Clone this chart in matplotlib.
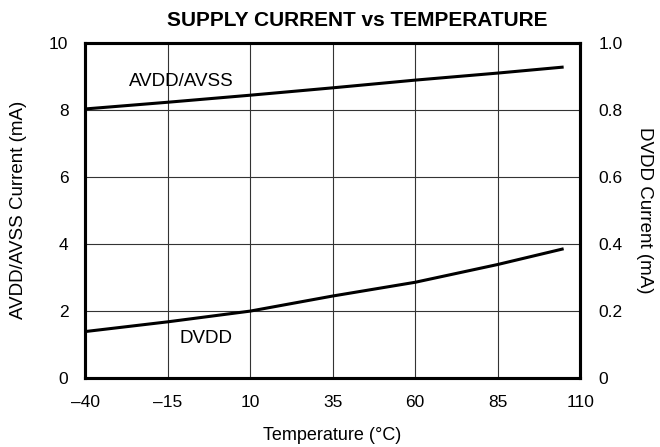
import matplotlib.pyplot as plt

plt.rcParams['font.family'] = ['Liberation Sans', 'DejaVu Sans']

temp = [-40, -15, 10, 35, 60, 85, 105]
avdd = [8.03, 8.23, 8.44, 8.66, 8.89, 9.10, 9.28]
dvdd = [0.139, 0.168, 0.200, 0.245, 0.286, 0.339, 0.386]

x_ticks = [-40, -15, 10, 35, 60, 85, 110]
x_labels = ['\u201340', '\u201315', '10', '35', '60', '85', '110']
left_ticks = [0, 2, 4, 6, 8, 10]
right_ticks = [0, 0.2, 0.4, 0.6, 0.8, 1.0]
right_labels = ['0', '0.2', '0.4', '0.6', '0.8', '1.0']

fig = plt.figure(figsize=(6.6, 4.47), dpi=100)
ax = fig.add_axes([0.129, 0.154, 0.750, 0.750])

ax.plot(temp, avdd, color='black', lw=2.2, solid_capstyle='butt', zorder=3)
ax.set_xlim(-40, 110)
ax.set_ylim(0, 10)
ax.set_xticks(x_ticks)
ax.set_xticklabels(x_labels)
ax.set_yticks(left_ticks)
ax.grid(True, color='#333333', lw=0.8)
ax.tick_params(axis='x', length=0, labelsize=12.5, pad=12)
ax.tick_params(axis='y', length=0, labelsize=12.5, pad=12)
for s in ax.spines.values():
    s.set_linewidth(2.2)

ax2 = ax.twinx()
ax2.plot(temp, dvdd, color='black', lw=2.2, solid_capstyle='butt', zorder=3)
ax2.set_ylim(0, 1.0)
ax2.set_yticks(right_ticks)
ax2.set_yticklabels(right_labels)
ax2.tick_params(length=0, labelsize=12.5, pad=13)
for s in ax2.spines.values():
    s.set_linewidth(2.2)

ax.text(-10.7, 8.84, 'AVDD/AVSS', fontsize=13.5, ha='center', va='center')
ax.text(-3.3, 1.18, 'DVDD', fontsize=13.5, ha='center', va='center')

# axis titles placed directly on the figure
fig.text(0.503, 0.026, 'Temperature (\u00b0C)', fontsize=13,
         ha='center', va='center')
fig.text(0.028, 0.53, 'AVDD/AVSS Current (mA)', fontsize=13.5,
         rotation=90, ha='center', va='center')
fig.text(0.976, 0.53, 'DVDD Current (mA)', fontsize=13.5,
         rotation=270, ha='center', va='center')

fig.text(0.542, 0.955, 'SUPPLY CURRENT vs TEMPERATURE', fontsize=15,
         fontweight='bold', ha='center', va='center')

fig.savefig('out.png', dpi=100)
